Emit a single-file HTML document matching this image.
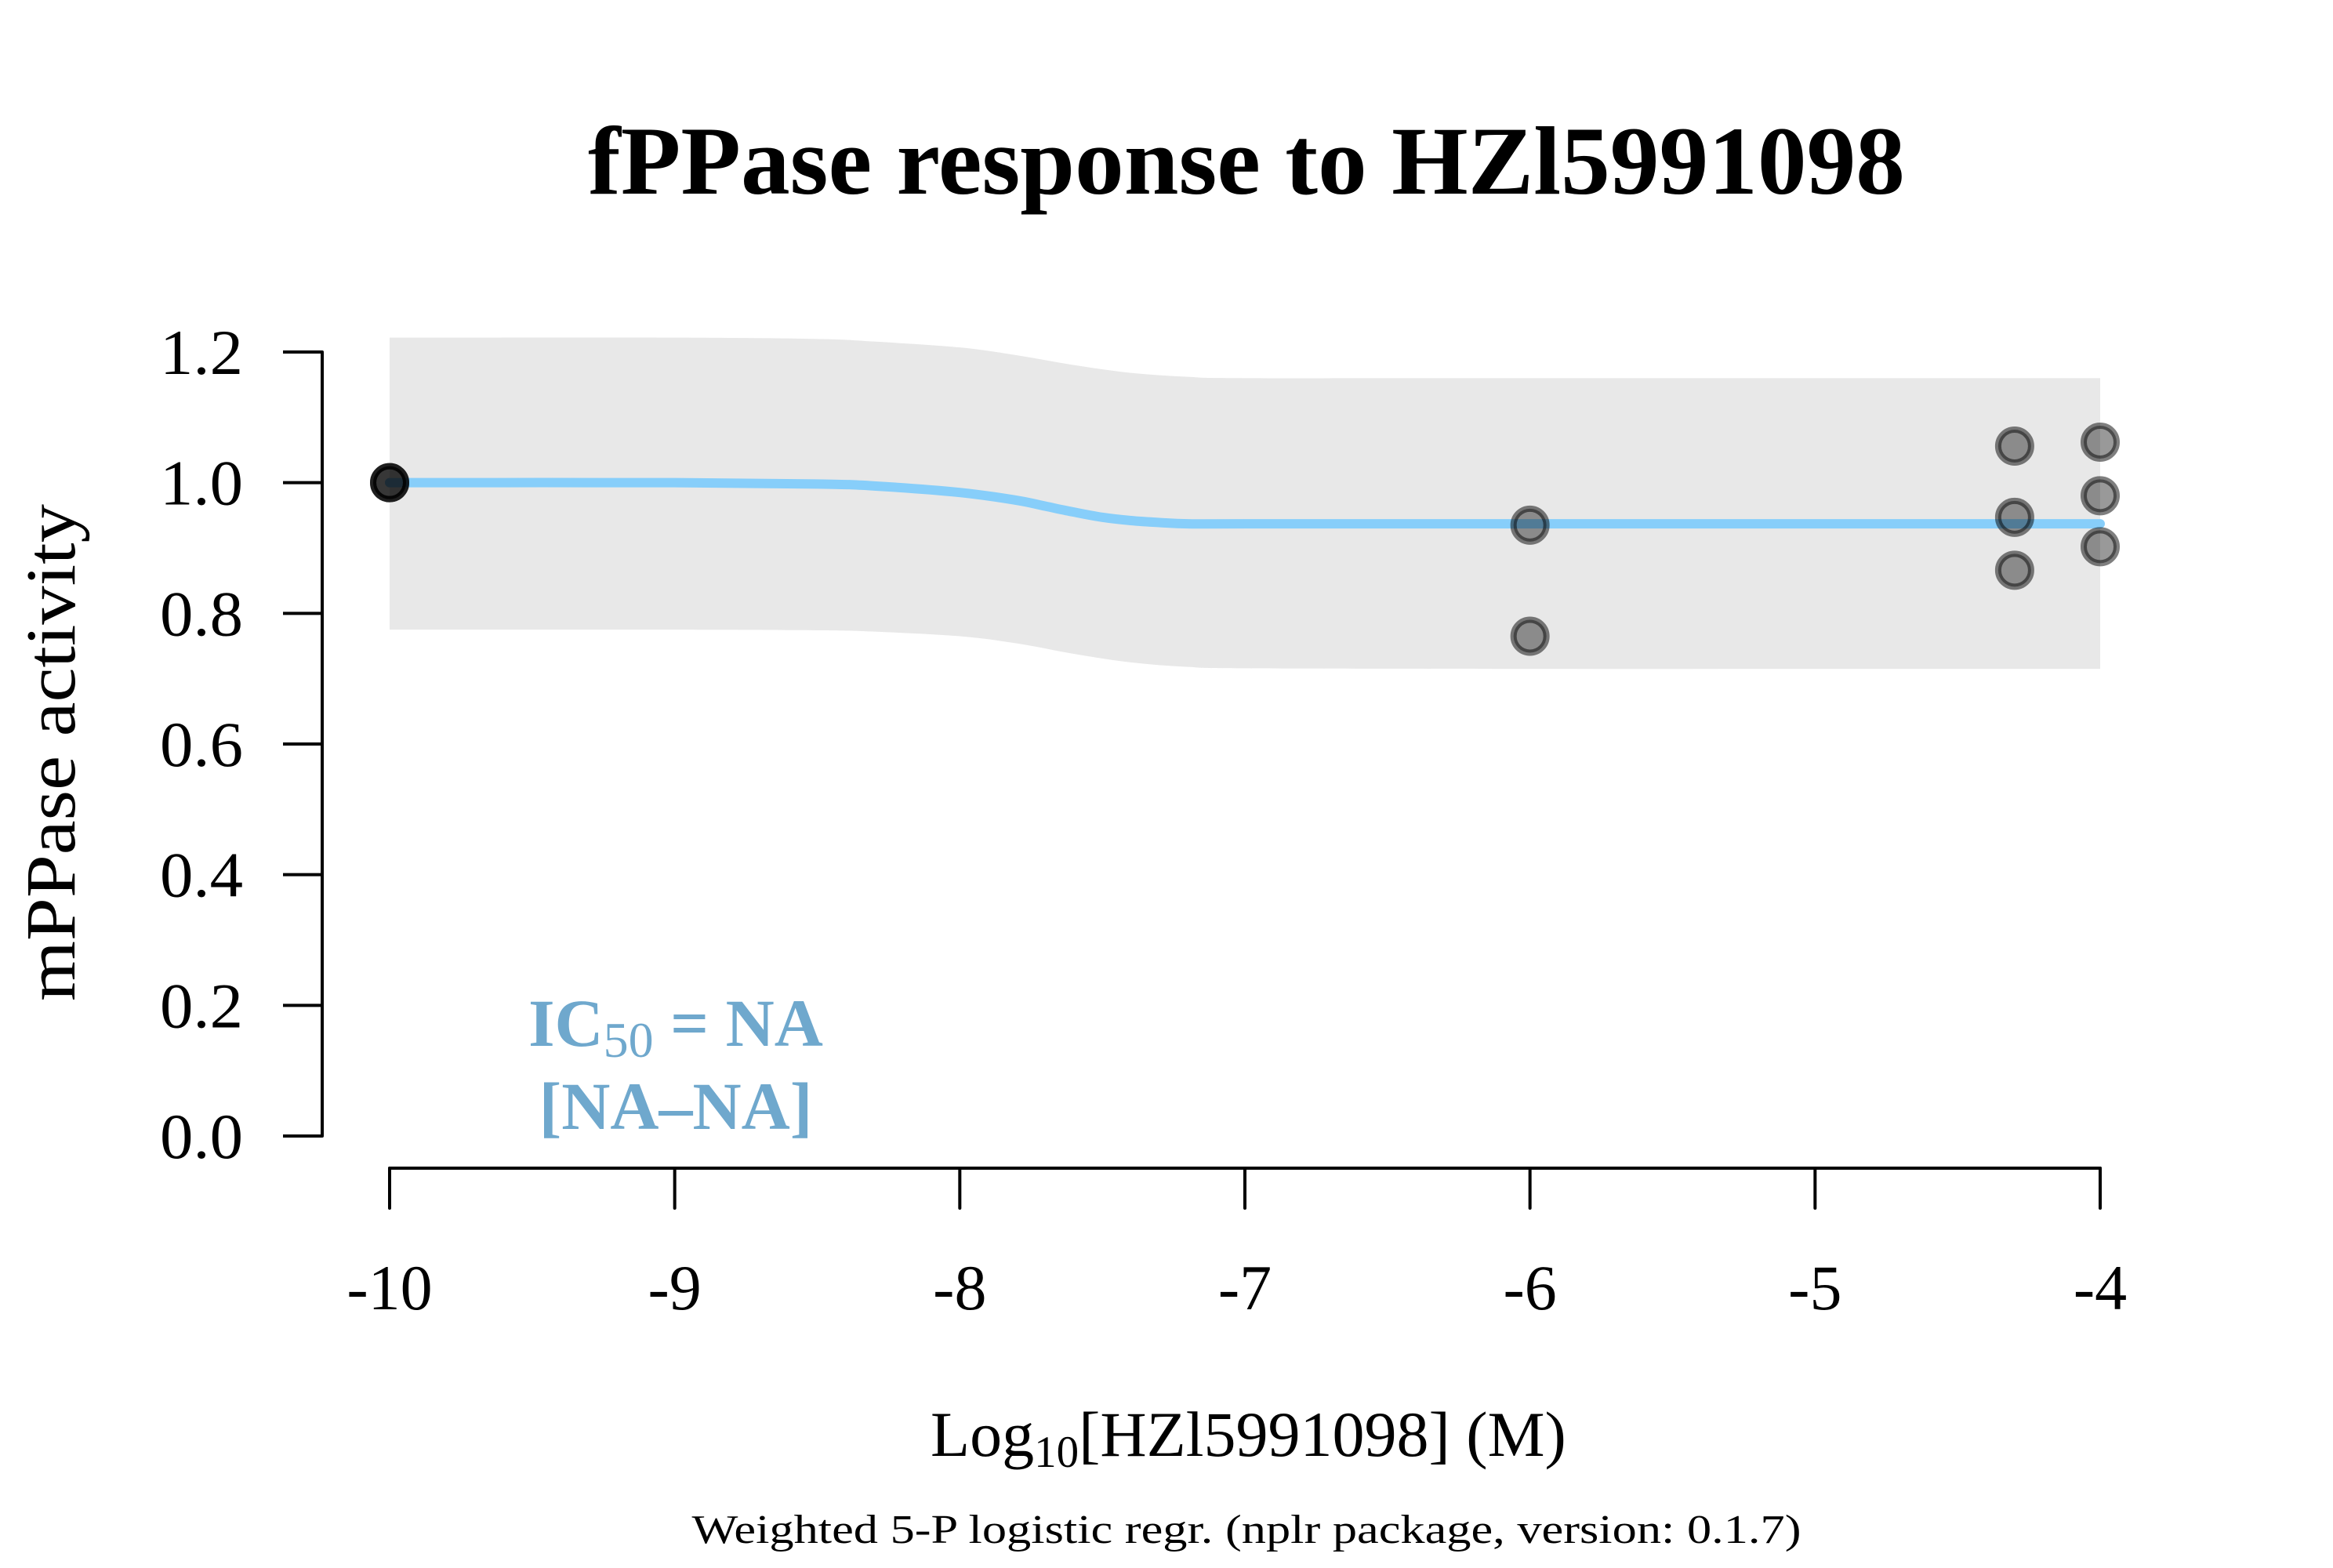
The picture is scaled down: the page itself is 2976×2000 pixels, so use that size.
<!DOCTYPE html>
<html><head><meta charset="utf-8"><style>
html,body{margin:0;padding:0;background:#fff;}
svg{display:block;}
text{font-family:"Liberation Serif",serif;fill:#000;}
</style></head><body>
<svg id="chart" width="2976" height="2000" viewBox="0 0 2976 2000" xmlns="http://www.w3.org/2000/svg">
<rect width="2976" height="2000" fill="#fff"/>
<text x="1590" y="247" font-size="124" font-weight="bold" text-anchor="middle" textLength="1680" lengthAdjust="spacingAndGlyphs">fPPase response to HZl5991098</text>
<g id="band"></g>
<g id="curve"></g>
<g id="points"></g>
<g id="yaxis"></g>
<g id="xaxis"></g>
<text transform="translate(95,960) rotate(-90)" font-size="90" text-anchor="middle" textLength="634" lengthAdjust="spacingAndGlyphs">mPPase activity</text>
<text x="1187" y="1857" font-size="82" text-anchor="start">Log<tspan font-size="57" dy="14">10</tspan><tspan dy="-14">[HZl5991098] (M)</tspan></text>
<text x="1590" y="1968" font-size="52" text-anchor="middle" textLength="1415" lengthAdjust="spacingAndGlyphs">Weighted 5-P logistic regr. (nplr package, version: 0.1.7)</text>
<g fill="#6fa8cd">
<text x="862" y="1334" font-size="86" font-weight="bold" text-anchor="middle" style="fill:#6fa8cd">IC<tspan font-size="64" font-weight="normal" dy="14">50</tspan><tspan dy="-14"> = NA</tspan></text>
<text x="862" y="1440" font-size="86" font-weight="bold" text-anchor="middle" style="fill:#6fa8cd">[NA–NA]</text>
</g>
</svg>
<script>
const yTicks = [0, 0.2, 0.4, 0.6, 0.8, 1.0, 1.2];
const yTickLabels = ["0.0","0.2","0.4","0.6","0.8","1.0","1.2"];
const xTicks = [-10, -9, -8, -7, -6, -5, -4];
const xTickLabels = ["-10","-9","-8","-7","-6","-5","-4"];
const curveX = [-10, -9, -8.5, -8.3, -8, -7.8, -7.7, -7.6, -7.5, -7.4, -7.3, -7.2, -7, -6, -5, -4];
const curveY = [1.0, 1.0, 0.998, 0.995, 0.985, 0.973, 0.964, 0.955, 0.947, 0.942, 0.939, 0.937, 0.937, 0.937, 0.937, 0.937];
const bandX = [-10, -9, -8.5, -8.3, -8, -7.8, -7.6, -7.4, -7.2, -7, -6, -5, -4];
const bandUpper = [1.222, 1.222, 1.22, 1.216, 1.207, 1.195, 1.18, 1.168, 1.162, 1.16, 1.16, 1.16, 1.16];
const bandLower = [0.775, 0.775, 0.774, 0.772, 0.765, 0.754, 0.738, 0.725, 0.718, 0.716, 0.715, 0.715, 0.715];
const pointX = [-10, -10, -10, -6, -6, -4.3, -4.3, -4.3, -4, -4, -4];
const pointY = [1.0, 1.0, 1.0, 0.935, 0.765, 1.056, 0.947, 0.866, 1.062, 0.98, 0.902];

const NS = "http://www.w3.org/2000/svg";
function xs(v){ return 497 + (v + 10) * (2679 - 497) / 6; }
function ys(v){ return 1449 - v * (1449 - 449) / 1.2; }
function mk(tag, attrs, parent){
  const e = document.createElementNS(NS, tag);
  for (const k in attrs) e.setAttribute(k, attrs[k]);
  parent.appendChild(e);
  return e;
}
function smooth(P){
  let cd = 'M' + P[0][0] + ' ' + P[0][1];
  for (let i = 0; i < P.length - 1; i++) {
    const p0 = P[Math.max(0,i-1)], p1 = P[i], p2 = P[i+1], p3 = P[Math.min(P.length-1,i+2)];
    const c1x = p1[0] + (p2[0]-p0[0])/6, c1y = p1[1] + (p2[1]-p0[1])/6;
    const c2x = p2[0] - (p3[0]-p1[0])/6, c2y = p2[1] - (p3[1]-p1[1])/6;
    cd += ` C${c1x} ${c1y} ${c2x} ${c2y} ${p2[0]} ${p2[1]}`;
  }
  return cd;
}

// band
const band = document.getElementById('band');
const up = bandX.map((x,i)=>[xs(x), ys(bandUpper[i])]);
const lo = bandX.map((x,i)=>[xs(x), ys(bandLower[i])]).reverse();
const bd = smooth(up) + ' L' + lo[0][0] + ' ' + lo[0][1] + ' ' + smooth(lo).replace(/^M[^C]*/, '') + ' Z';
const bp = mk('path', {d: bd, fill: '#e8e8e8'}, band);



// curve
const curve = document.getElementById('curve');
const P = curveX.map((x,i)=>[xs(x), ys(curveY[i])]);
const cp = mk('path', {d: smooth(P), fill: 'none', stroke: '#87cefa', 'stroke-width': 12, 'stroke-linecap': 'round'}, curve);



// points
const pts = document.getElementById('points');
pointX.forEach((x,i)=>{
  const c = mk('circle', {cx: xs(x), cy: ys(pointY[i]), r: 21, fill: 'rgba(0,0,0,0.4)', stroke: 'rgba(0,0,0,0.5)', 'stroke-width': 8}, pts);
  
  
});

// y axis
const ya = document.getElementById('yaxis');
const yl = mk('line', {x1: 411, x2: 411, y1: ys(1.2), y2: ys(0), stroke: '#000', 'stroke-width': 4, 'stroke-linecap': 'round'}, ya);


yTicks.forEach((v,i)=>{
  const t = mk('line', {x1: 361, x2: 411, y1: ys(v), y2: ys(v), stroke: '#000', 'stroke-width': 4}, ya);
  
  
  const lb = mk('text', {x: 310, y: ys(v) + 28, 'font-size': 82, 'text-anchor': 'end', textLength: 106, lengthAdjust: 'spacingAndGlyphs'}, ya);
  lb.textContent = yTickLabels[i];
  
  
});

// x axis
const xa = document.getElementById('xaxis');
const xl = mk('line', {x1: xs(-10), x2: xs(-4), y1: 1490, y2: 1490, stroke: '#000', 'stroke-width': 4, 'stroke-linecap': 'round'}, xa);


xTicks.forEach((v,i)=>{
  const t = mk('line', {x1: xs(v), x2: xs(v), y1: 1490, y2: 1541, stroke: '#000', 'stroke-width': 4, 'stroke-linecap': 'round'}, xa);
  
  
  const lb = mk('text', {x: xs(v), y: 1670, 'font-size': 82, 'text-anchor': 'middle'}, xa);
  lb.textContent = xTickLabels[i];
  
  
});
</script>
</body></html>
